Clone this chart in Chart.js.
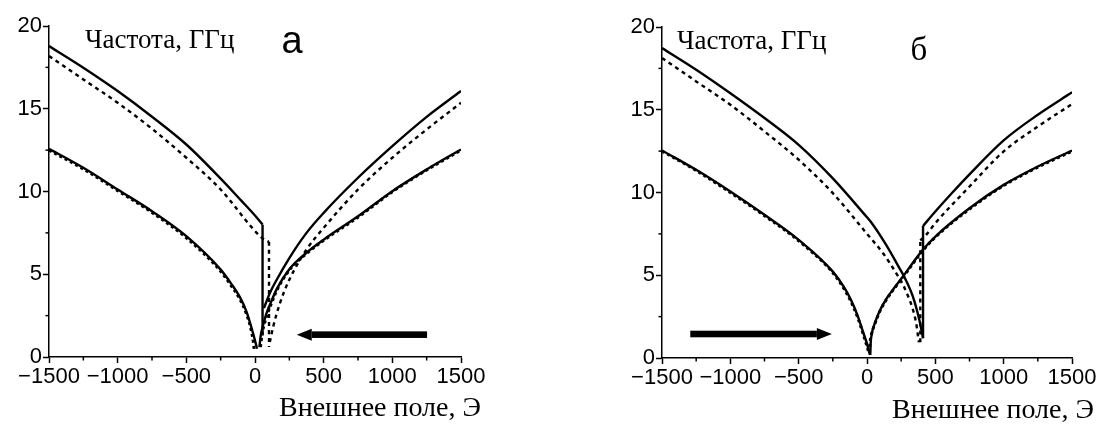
<!DOCTYPE html>
<html>
<head>
<meta charset="utf-8">
<script src="https://cdn.jsdelivr.net/npm/chart.js@4.4.1/dist/chart.umd.min.js"></script>
<style>
  html, body { margin: 0; padding: 0; background: #fff; }
  .panel { position: absolute; top: 0; width: 551px; height: 426px; }
</style>
</head>
<body>
<div class="panel" style="left:0"><canvas id="chart-a" width="551" height="426"></canvas></div>
<div class="panel" style="left:551px"><canvas id="chart-b" width="551" height="426"></canvas></div>
<script>
// Axis ticks (Э / ГГц)
const fieldTicks = [-1500, -1000, -500, 0, 500, 1000, 1500];
const freqTicks = [0, 5, 10, 15, 20];

// ---- Panel "а": field swept down (arrow to the left) ----
const aUpperSolidH = [-1500, -1250, -1000, -750, -500, -250, -100, 0, 55];
const aUpperSolidF = [18.79, 17.48, 16.07, 14.52, 12.84, 10.78, 9.45, 8.55, 8.0];
const aJumpSolidH = [55, 55];
const aJumpSolidF = [8.0, 1.3];
const aUpperSolidRH = [65, 110, 158, 250, 375, 500, 750, 1000, 1250, 1500];
const aUpperSolidRF = [2.95, 3.9, 4.67, 5.98, 7.5, 8.71, 10.83, 12.74, 14.51, 16.07];
const aLowerSolidH = [-1500, -1250, -1000, -750, -500, -250, -175, -109, -60, -25, 0, 15];
const aLowerSolidF = [12.58, 11.43, 10.12, 8.81, 7.3, 5.28, 4.45, 3.6, 2.7, 1.75, 1.0, 0.5];
const aLowerSolidRH = [32, 40, 55, 80, 116, 158, 250, 375, 500, 750, 1000, 1250, 1500];
const aLowerSolidRF = [0.6, 1.2, 1.8, 2.55, 3.3, 4.1, 5.3, 6.3, 7.09, 8.5, 10.02, 11.33, 12.54];

const aUpperDashH = [-1500, -1250, -1000, -750, -500, -250, -20, 50, 102];
const aUpperDashF = [18.19, 16.77, 15.36, 13.79, 12.04, 10.12, 7.8, 7.2, 6.95];
const aJumpDashH = [102, 102];
const aJumpDashF = [6.95, 0.6];
const aUpperDashRH = [108, 133, 182, 250, 375, 500, 750, 1000, 1250, 1500];
const aUpperDashRF = [0.9, 1.85, 3.26, 4.67, 6.49, 7.8, 10.12, 12.04, 13.75, 15.36];
const aLowerDotH = [-1500, -1250, -1000, -750, -500, -250, -175, -109, -60, -30, -12, -6];
const aLowerDotF = [12.5, 11.36, 10.05, 8.73, 7.2, 5.18, 4.33, 3.48, 2.55, 1.7, 0.9, 0.45];
const aLowerDotRH = [40, 50, 65, 90, 120, 160, 250, 375, 500, 750, 1000, 1250, 1500];
const aLowerDotRF = [0.6, 1.3, 1.9, 2.6, 3.25, 4.05, 5.25, 6.25, 7.05, 8.45, 9.98, 11.3, 12.5];

const aArrowH = [1253, 304];
const aArrowF = [1.35, 1.35];

// ---- Panel "б": field swept up (arrow to the right) ----
const bUpperSolidH = [-1500, -1250, -1000, -750, -500, -250, 0, 29, 139, 236, 273, 334, 383, 410];
const bUpperSolidF = [18.73, 17.42, 16.0, 14.5, 12.88, 10.85, 8.5, 8.22, 6.85, 5.45, 4.9, 3.75, 2.3, 1.2];
const bJumpSolidH = [410, 410];
const bJumpSolidF = [1.2, 7.98];
const bUpperSolidRH = [410, 500, 625, 750, 1000, 1250, 1500];
const bUpperSolidRF = [7.98, 8.85, 10.0, 11.1, 13.15, 14.7, 16.05];
const bLowerSolidH = [-1500, -1250, -1000, -750, -500, -250, -166, -117, -68, -32, 0, 22];
const bLowerSolidF = [12.54, 11.37, 10.06, 8.65, 7.14, 5.22, 4.25, 3.5, 2.55, 1.65, 0.85, 0.18];
const bLowerSolidRH = [24, 27, 35, 55, 90, 140, 200, 270, 340, 410, 500, 750, 1000, 1250, 1500];
const bLowerSolidRF = [0.18, 0.9, 1.45, 2.05, 2.8, 3.55, 4.25, 5.0, 5.8, 6.55, 7.34, 9.05, 10.46, 11.57, 12.54];

const bUpperDashH = [-1500, -1250, -1000, -750, -500, -250, 0, 120, 212, 262, 300, 335, 360, 372, 380];
const bUpperDashF = [18.13, 16.71, 15.3, 13.69, 11.98, 9.96, 7.5, 6.3, 5.15, 4.45, 3.75, 2.95, 2.1, 1.4, 0.95];
const bJumpDashH = [390, 390];
const bJumpDashF = [0.95, 7.1];
const bUpperDashRH = [390, 432, 500, 750, 1000, 1250, 1500];
const bUpperDashRF = [7.1, 7.44, 8.15, 10.36, 12.48, 13.99, 15.34];
const bLowerDotH = [-1500, -1250, -1000, -750, -500, -250, -166, -117, -68, -32, 0, 15];
const bLowerDotF = [12.5, 11.33, 10.0, 8.6, 7.08, 5.15, 4.15, 3.4, 2.45, 1.55, 0.7, 0.25];
const bLowerDotRH = [18, 22, 32, 55, 90, 140, 200, 270, 340, 410, 500, 750, 1000, 1250, 1500];
const bLowerDotRF = [0.3, 0.9, 1.4, 2.0, 2.75, 3.5, 4.2, 4.95, 5.75, 6.5, 7.3, 9.0, 10.42, 11.53, 12.5];

const bArrowH = [-1293, -257];
const bArrowF = [1.45, 1.45];

// Texts
const freqTitle = 'Частота, ГГц';
const fieldTitle = 'Внешнее поле, Э';

const sansFont = "'Liberation Sans', Arial, sans-serif";
const serifFont = "'Liberation Serif', 'Times New Roman', serif";

const pts = (xs, ys) => xs.map((x, i) => ({ x, y: ys[i] }));

const lineStyles = {
    solid: { borderWidth: 2.4, borderDash: [] },
    dash: { borderWidth: 2.4, borderDash: [4, 4] },
    dot: { borderWidth: 3, borderDash: [3, 3] },
};

const makeDataset = (xs, ys, style) => ({
    data: pts(xs, ys),
    showLine: true,
    borderColor: '#000',
    backgroundColor: '#000',
    pointRadius: 0,
    cubicInterpolationMode: 'monotone',
    ...lineStyles[style],
});

// Short minor tick marks between the labelled ones
const minorTicks = {
    id: 'minorTicks',
    afterDraw(chart) {
        const { ctx, scales: { x, y } } = chart;
        ctx.save();
        ctx.strokeStyle = '#000';
        ctx.lineWidth = 1.5;
        x.ticks.forEach((t) => {
            if (fieldTicks.includes(t.value)) return;
            const px = x.getPixelForValue(t.value);
            ctx.beginPath();
            ctx.moveTo(px, y.bottom);
            ctx.lineTo(px, y.bottom + 3.5);
            ctx.stroke();
        });
        y.ticks.forEach((t) => {
            if (freqTicks.includes(t.value)) return;
            const py = y.getPixelForValue(t.value);
            ctx.beginPath();
            ctx.moveTo(x.left, py);
            ctx.lineTo(x.left - 3.5, py);
            ctx.stroke();
        });
        ctx.restore();
    },
};

// Thick sweep-direction arrow
const sweepArrow = {
    id: 'sweepArrow',
    afterDatasetsDraw(chart, args, opts) {
        const { ctx, scales: { x, y } } = chart;
        const x0 = x.getPixelForValue(opts.h[0]);
        const x1 = x.getPixelForValue(opts.h[1]);
        const py = y.getPixelForValue(opts.f[0]);
        const dir = Math.sign(x1 - x0);
        const headLen = 15;
        ctx.save();
        ctx.fillStyle = '#000';
        ctx.fillRect(Math.min(x0, x1 - dir * headLen), py - 3.3, Math.abs(x1 - dir * headLen - x0), 6.6);
        ctx.beginPath();
        ctx.moveTo(x1, py);
        ctx.lineTo(x1 - dir * headLen, py - 6);
        ctx.lineTo(x1 - dir * headLen, py + 6);
        ctx.closePath();
        ctx.fill();
        ctx.restore();
    },
};

const panelTexts = {
    id: 'panelTexts',
    afterDraw(chart, args, opts) {
        const { ctx } = chart;
        ctx.save();
        ctx.fillStyle = '#000';
        ctx.textBaseline = 'alphabetic';
        opts.items.forEach((it) => {
            ctx.font = it.font;
            ctx.textAlign = it.align;
            ctx.fillText(it.text, it.x, it.y);
        });
        ctx.restore();
    },
};

const tickColor = (major) => (ctx) => (major.includes(ctx.tick && ctx.tick.value) ? '#000' : 'rgba(0,0,0,0)');

const makeChart = (canvasId, datasets, cfg) => new Chart(document.getElementById(canvasId), {
    type: 'scatter',
    data: { datasets },
    plugins: [minorTicks, sweepArrow, panelTexts],
    options: {
        responsive: false,
        animation: false,
        events: [],
        layout: { padding: cfg.padding },
        scales: {
            x: {
                type: 'linear',
                min: -1500,
                max: 1500,
                afterFit: (s) => { s.height = cfg.xHeight; },
                ticks: {
                    stepSize: 250,
                    autoSkip: false,
                    maxRotation: 0,
                    padding: 1,
                    color: '#000',
                    font: { family: sansFont, size: 22 },
                    callback: (v) => (fieldTicks.includes(v) ? String(v).replace('-', '\u2212') : ''),
                },
                grid: { drawOnChartArea: false, tickLength: 6, tickWidth: 1.5, tickColor: tickColor(fieldTicks) },
                border: { display: true, color: '#000', width: 1.5 },
            },
            y: {
                type: 'linear',
                min: 0,
                max: 20,
                afterFit: (s) => { s.width = cfg.yWidth; },
                ticks: {
                    stepSize: 2.5,
                    padding: 1,
                    color: '#000',
                    font: { family: sansFont, size: 22 },
                    callback: (v) => (freqTicks.includes(v) ? String(v) : ''),
                },
                grid: { drawOnChartArea: false, tickLength: 6, tickWidth: 1.5, tickColor: tickColor(freqTicks) },
                border: { display: true, color: '#000', width: 1.5 },
            },
        },
        plugins: {
            legend: { display: false },
            tooltip: { enabled: false },
            sweepArrow: { h: cfg.arrowH, f: cfg.arrowF },
            panelTexts: { items: cfg.texts },
        },
    },
});

makeChart('chart-a', [
    makeDataset(aUpperDashH, aUpperDashF, 'dash'),
    makeDataset(aJumpDashH, aJumpDashF, 'dash'),
    makeDataset(aUpperDashRH, aUpperDashRF, 'dash'),
    makeDataset(aLowerDotH, aLowerDotF, 'dot'),
    makeDataset(aLowerDotRH, aLowerDotRF, 'dot'),
    makeDataset(aUpperSolidH, aUpperSolidF, 'solid'),
    makeDataset(aJumpSolidH, aJumpSolidF, 'solid'),
    makeDataset(aUpperSolidRH, aUpperSolidRF, 'solid'),
    makeDataset(aLowerSolidH, aLowerSolidF, 'solid'),
    makeDataset(aLowerSolidRH, aLowerSolidRF, 'solid'),
], {
    padding: { top: 26, right: 90, bottom: 0, left: 0 },
    xHeight: 69,
    yWidth: 49,
    arrowH: aArrowH,
    arrowF: aArrowF,
    texts: [
        { text: freqTitle, x: 85, y: 48, font: `27px ${serifFont}`, align: 'left' },
        { text: 'а', x: 292, y: 53, font: `38px ${sansFont}`, align: 'center' },
        { text: fieldTitle, x: 481, y: 416, font: `28px ${serifFont}`, align: 'right' },
    ],
});

makeChart('chart-b', [
    makeDataset(bUpperDashH, bUpperDashF, 'dash'),
    makeDataset(bJumpDashH, bJumpDashF, 'dash'),
    makeDataset(bUpperDashRH, bUpperDashRF, 'dash'),
    makeDataset(bLowerDotH, bLowerDotF, 'dot'),
    makeDataset(bLowerDotRH, bLowerDotRF, 'dot'),
    makeDataset(bUpperSolidH, bUpperSolidF, 'solid'),
    makeDataset(bJumpSolidH, bJumpSolidF, 'solid'),
    makeDataset(bUpperSolidRH, bUpperSolidRF, 'solid'),
    makeDataset(bLowerSolidH, bLowerSolidF, 'solid'),
    makeDataset(bLowerSolidRH, bLowerSolidRF, 'solid'),
], {
    padding: { top: 27, right: 30, bottom: 0, left: 0 },
    xHeight: 68,
    yWidth: 111,
    arrowH: bArrowH,
    arrowF: bArrowF,
    texts: [
        { text: freqTitle, x: 126, y: 49, font: `27px ${serifFont}`, align: 'left' },
        { text: 'б', x: 368, y: 60, font: `33px ${serifFont}`, align: 'center' },
        { text: fieldTitle, x: 543, y: 418, font: `28px ${serifFont}`, align: 'right' },
    ],
});
</script>
</body>
</html>
